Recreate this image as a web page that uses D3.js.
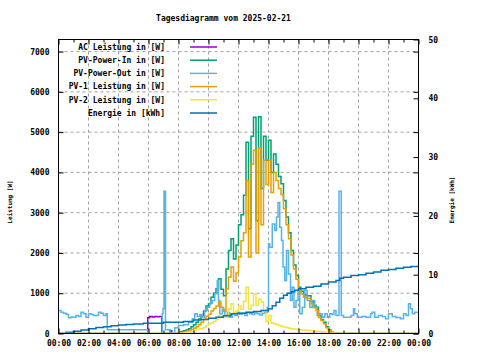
<!DOCTYPE html>
<html>
<head>
<meta charset="utf-8">
<script src="https://cdn.jsdelivr.net/npm/d3@7"></script>
<style>
  body { margin: 0; background: #fff; }
  svg text { font-family: "DejaVu Sans Mono", monospace; font-size: 8px; font-weight: bold; fill: #000; }
</style>
</head>
<body>
<div id="chart"></div>
<script>
// tick labels
const timeLabels = ["00:00","02:00","04:00","06:00","08:00","10:00","12:00","14:00","16:00","18:00","20:00","22:00","00:00"];
const powerTicks = [0,1000,2000,3000,4000,5000,6000,7000];
const energyTicks = [0,10,20,30,40,50];

// series: [time, W]
const acPower = [["00:00",0],["05:57",390],["06:05",420],["06:15",410],["06:25",420],["06:35",415],["06:45",425],["06:53",0],
  ["07:25",70],["07:33",0],["24:00",0]];

const pvIn = [["00:00",0],["08:00",30],["08:10",50],["08:20",70],["08:30",90],["08:40",120],["08:50",170],["09:00",220],["09:10",280],
  ["09:20",360],["09:30",447],["09:40",560],["09:50",680],["10:00",740],["10:10",900],["10:20",1000],["10:30",1110],["10:40",1360],
  ["10:50",1100],["11:00",940],["11:10",1600],["11:20",2060],["11:30",2350],["11:40",1850],["11:50",2200],["12:00",2700],["12:10",2950],
  ["12:20",3430],["12:30",4750],["12:40",2600],["12:50",4900],["13:00",5370],["13:10",2800],["13:20",5380],["13:30",3600],["13:40",4900],
  ["13:50",4300],["14:00",4800],["14:10",4000],["14:20",4460],["14:30",4200],["14:40",3900],["14:50",3720],["15:00",3300],["15:10",2890],
  ["15:20",2500],["15:30",2060],["15:40",1700],["15:50",1440],["16:00",1150],["16:10",1050],["16:20",960],["16:30",940],["16:40",940],
  ["16:50",800],["17:00",700],["17:10",650],["17:20",450],["17:30",350],["17:40",280],["17:50",170],["18:00",90],["18:10",30],["18:20",0],["24:00",0]];

const pvOut = [["00:00",570],["00:10",530],["00:20",500],["00:30",480],["00:40",390],["00:50",410],["01:00",405],["01:10",447],["01:20",420],
  ["01:30",530],["01:40",490],["01:50",405],["02:00",490],["02:10",470],["02:20",447],["02:30",450],["02:40",530],["02:50",500],["03:00",447],
  ["03:10",490],["03:15",92],["05:57",0],["06:55",490],["06:58",613],["07:02",3530],["07:08",92],["07:26",0],["07:45",140],["08:00",200],
  ["08:20",220],["08:40",280],["08:55",365],["09:05",490],["09:15",420],["09:25",470],["09:35",405],["09:45",571],["09:55",650],["10:05",750],
  ["10:15",820],["10:25",985],["10:35",1316],["10:40",820],["10:45",490],["10:55",600],["11:05",450],["11:15",520],["11:25",405],["11:35",490],
  ["11:45",450],["11:55",520],["12:05",480],["12:15",500],["12:25",450],["12:35",520],["12:45",490],["12:55",470],["13:05",510],["13:15",490],
  ["13:25",460],["13:35",500],["13:45",520],["13:55",653],["14:00",2230],["14:05",2140],["14:15",2720],["14:25",2560],["14:32",2890],
  ["14:38",3250],["14:45",2640],["14:52",2310],["14:58",1650],["15:05",1316],["15:12",2060],["15:20",1480],["15:28",820],["15:35",1150],
  ["15:42",650],["15:50",820],["15:58",1070],["16:05",490],["16:15",650],["16:25",1070],["16:35",820],["16:45",650],["16:55",820],["17:05",650],
  ["17:15",447],["17:25",490],["17:35",405],["17:45",490],["17:55",405],["18:05",490],["18:15",470],["18:22",571],["18:30",447],["18:42",3530],
  ["18:51",447],["19:00",405],["19:15",405],["19:30",447],["19:40",613],["19:45",490],["19:55",405],["20:15",420],["20:30",405],["20:48",490],
  ["20:55",530],["21:05",405],["21:20",447],["21:35",420],["21:48",365],["22:00",490],["22:15",420],["22:30",400],["22:48",365],["23:00",490],
  ["23:10",450],["23:20",737],["23:28",613],["23:35",490],["23:45",530],["24:00",490]];

const pv1 = [["00:00",0],["07:50",0],["08:00",10],["08:10",20],["08:20",35],["08:30",50],["08:40",70],["08:50",100],["09:00",130],["09:10",170],
  ["09:20",220],["09:30",280],["09:40",350],["09:50",430],["10:00",480],["10:10",560],["10:20",620],["10:30",680],["10:40",780],["10:50",650],
  ["11:00",550],["11:10",1110],["11:20",1400],["11:30",1650],["11:40",1300],["11:50",1500],["12:00",1900],["12:10",2300],["12:20",2500],
  ["12:30",3800],["12:40",1900],["12:50",4200],["13:00",4550],["13:10",2000],["13:20",4600],["13:30",2700],["13:40",4300],["13:50",3700],
  ["14:00",4300],["14:10",3500],["14:20",4000],["14:30",3800],["14:40",3600],["14:50",3450],["15:00",3100],["15:10",2700],["15:20",2350],
  ["15:30",1950],["15:40",1600],["15:50",1350],["16:00",1070],["16:10",980],["16:20",900],["16:30",880],["16:40",870],["16:50",740],
  ["17:00",640],["17:10",570],["17:20",400],["17:30",320],["17:40",240],["17:50",140],["18:00",70],["18:10",20],["18:20",0],["24:00",0]];

const pv2 = [["00:00",0],["07:50",0],["08:00",10],["08:10",15],["08:20",20],["08:30",30],["08:40",40],["08:50",50],["09:00",70],["09:10",100],
  ["09:20",110],["09:30",120],["09:40",150],["09:50",200],["10:00",240],["10:10",260],["10:20",300],["10:30",350],["10:40",450],["10:50",420],
  ["11:00",450],["11:10",400],["11:20",600],["11:30",740],["11:40",520],["11:50",560],["12:00",690],["12:10",600],["12:20",800],["12:30",1150],
  ["12:40",600],["12:50",700],["13:00",990],["13:10",700],["13:20",850],["13:30",780],["13:40",550],["13:50",300],["14:00",450],["14:10",260],
  ["14:20",240],["14:30",220],["14:40",200],["14:50",180],["15:00",160],["15:10",150],["15:20",130],["15:30",120],["15:40",110],["15:50",100],
  ["16:00",95],["16:10",90],["16:20",85],["16:30",80],["16:40",75],["16:50",70],["17:00",60],["17:10",55],["17:20",50],["17:30",45],
  ["17:40",35],["17:50",25],["18:00",15],["18:10",5],["18:20",0],["24:00",0]];

// [time, kWh]
const energy = [["00:00",0],["00:30",0.2],["01:00",0.4],["01:30",0.6],["02:00",0.8],["02:30",1.0],["03:00",1.15],["03:30",1.3],["04:00",1.45],
  ["04:30",1.55],["05:00",1.62],["05:40",1.75],["07:00",1.92],["08:20",2.04],["09:00",2.3],["09:30",2.4],["10:00",2.6],["10:30",2.77],
  ["11:00",3.0],["11:30",3.35],["12:00",3.45],["12:30",3.62],["13:00",3.75],["13:30",3.9],["14:00",4.2],["14:15",4.7],["14:30",5.3],
  ["14:45",6.0],["15:00",6.5],["15:15",6.85],["15:30",7.1],["15:45",7.35],["16:00",7.6],["16:30",7.85],["17:00",8.05],["17:30",8.4],
  ["18:00",8.75],["18:30",9.0],["18:45",9.4],["19:00",9.55],["19:30",9.86],["20:00",10.0],["20:30",10.25],["21:00",10.45],["21:30",10.75],
  ["22:00",10.9],["22:30",11.1],["23:00",11.25],["23:30",11.4],["24:00",11.56]];

const series = [
  {name: "AC Leistung in [W]", data: acPower, color: "#9400d3", axis: "y"},
  {name: "PV-Power-In in [W]", data: pvIn, color: "#009e73", axis: "y"},
  {name: "PV-Power-Out in [W]", data: pvOut, color: "#56b4e9", axis: "y"},
  {name: "PV-1 Leistung in [W]", data: pv1, color: "#e69f00", axis: "y"},
  {name: "PV-2 Leistung in [W]", data: pv2, color: "#f0e442", axis: "y"},
  {name: "Energie in [kWh]", data: energy, color: "#0072b2", axis: "y2"}
];

function toMin(s) {
  const p = s.split(":").map(Number);
  return p[0] * 60 + p[1];
}

var width = 480, height = 360;
var pLeft = 58.5, pRight = 418.5, pTop = 39.5, pBottom = 333.5;

var x = d3.scaleLinear().domain([0, 1440]).range([pLeft, pRight]);
var y = d3.scaleLinear().domain([0, 7300]).range([pBottom, pTop]);
var y2 = d3.scaleLinear().domain([0, 50]).range([pBottom, pTop]);

var svg = d3.select("#chart").append("svg")
    .attr("width", width)
    .attr("height", height);

// keep zero lines under the border, like gnuplot does
svg.append("clipPath").attr("id", "plotclip")
  .append("rect")
    .attr("x", pLeft).attr("y", pTop)
    .attr("width", pRight - pLeft).attr("height", pBottom - pTop - 0.8);

// grid (behind data)
var grid = svg.append("g").attr("stroke", "#a0a0a0").attr("stroke-dasharray", "3,3");
grid.selectAll(".gx").data(d3.range(120, 1440, 120)).enter().append("line")
    .attr("x1", d => x(d)).attr("x2", d => x(d))
    .attr("y1", pTop).attr("y2", pBottom);
grid.selectAll(".gy").data(powerTicks.slice(1)).enter().append("line")
    .attr("x1", pLeft).attr("x2", pRight)
    .attr("y1", d => y(d)).attr("y2", d => y(d));

// data lines
var plot = svg.append("g").attr("fill", "none").attr("stroke-width", 1.5)
    .attr("clip-path", "url(#plotclip)");
series.forEach(function(s) {
  var sc = s.axis === "y2" ? y2 : y;
  var line = d3.line()
      .x(d => x(toMin(d[0])))
      .y(d => sc(d[1]))
      .curve(d3.curveStepAfter);
  plot.append("path")
      .datum(s.data)
      .attr("stroke", s.color)
      .attr("d", line);
});

// axes
function clean(g) {
  g.select(".domain").remove();
  g.selectAll("line").attr("stroke", "#000");
  g.selectAll("text").attr("font-family", null).attr("font-size", null);
}

svg.append("g")
    .attr("transform", "translate(0," + pBottom + ")")
    .call(d3.axisBottom(x).tickValues(d3.range(0, 1441, 120))
      .tickFormat((d, i) => timeLabels[i]).tickSize(-5).tickPadding(7))
    .call(clean);
svg.append("g")
    .attr("transform", "translate(0," + pBottom + ")")
    .call(d3.axisBottom(x).tickValues(d3.range(60, 1440, 120)).tickFormat("").tickSize(-3))
    .call(clean);
svg.append("g")
    .attr("transform", "translate(0," + pTop + ")")
    .call(d3.axisTop(x).tickValues(d3.range(0, 1441, 120)).tickFormat("").tickSize(-5))
    .call(clean);
svg.append("g")
    .attr("transform", "translate(0," + pTop + ")")
    .call(d3.axisTop(x).tickValues(d3.range(60, 1440, 120)).tickFormat("").tickSize(-3))
    .call(clean);

svg.append("g")
    .attr("transform", "translate(" + pLeft + ",0)")
    .call(d3.axisLeft(y).tickValues(powerTicks).tickFormat(d3.format("d")).tickSize(-5).tickPadding(9))
    .call(clean);
svg.append("g")
    .attr("transform", "translate(" + pRight + ",0)")
    .call(d3.axisRight(y).tickValues(powerTicks).tickFormat("").tickSize(-5))
    .call(clean);
svg.append("g")
    .attr("transform", "translate(" + pRight + ",0)")
    .call(d3.axisRight(y2).tickValues(energyTicks).tickFormat(d3.format("d")).tickSize(-5).tickPadding(10))
    .call(clean);

// border
svg.append("rect")
    .attr("x", pLeft).attr("y", pTop)
    .attr("width", pRight - pLeft).attr("height", pBottom - pTop)
    .attr("fill", "none").attr("stroke", "#000");

// title and axis labels
svg.append("text")
    .attr("x", 223.5).attr("y", 21)
    .attr("text-anchor", "middle")
    .text("Tagesdiagramm vom 2025-02-21");

svg.append("text")
    .attr("transform", "translate(12,202) rotate(-90)")
    .attr("text-anchor", "middle")
    .style("font-size", "6px")
    .text("Leistung [W]");

svg.append("text")
    .attr("transform", "translate(454,200) rotate(-90)")
    .attr("text-anchor", "middle")
    .style("font-size", "6px")
    .text("Energie [kWh]");

// legend
var legend = svg.append("g");
series.forEach(function(s, i) {
  var ly = 47 + i * 13.2;
  legend.append("text")
      .attr("x", 165).attr("y", ly)
      .attr("dy", "0.35em")
      .attr("text-anchor", "end")
      .text(s.name);
  legend.append("line")
      .attr("x1", 190).attr("x2", 217)
      .attr("y1", ly).attr("y2", ly)
      .attr("stroke", s.color).attr("stroke-width", 1.5);
});
</script>
</body>
</html>
